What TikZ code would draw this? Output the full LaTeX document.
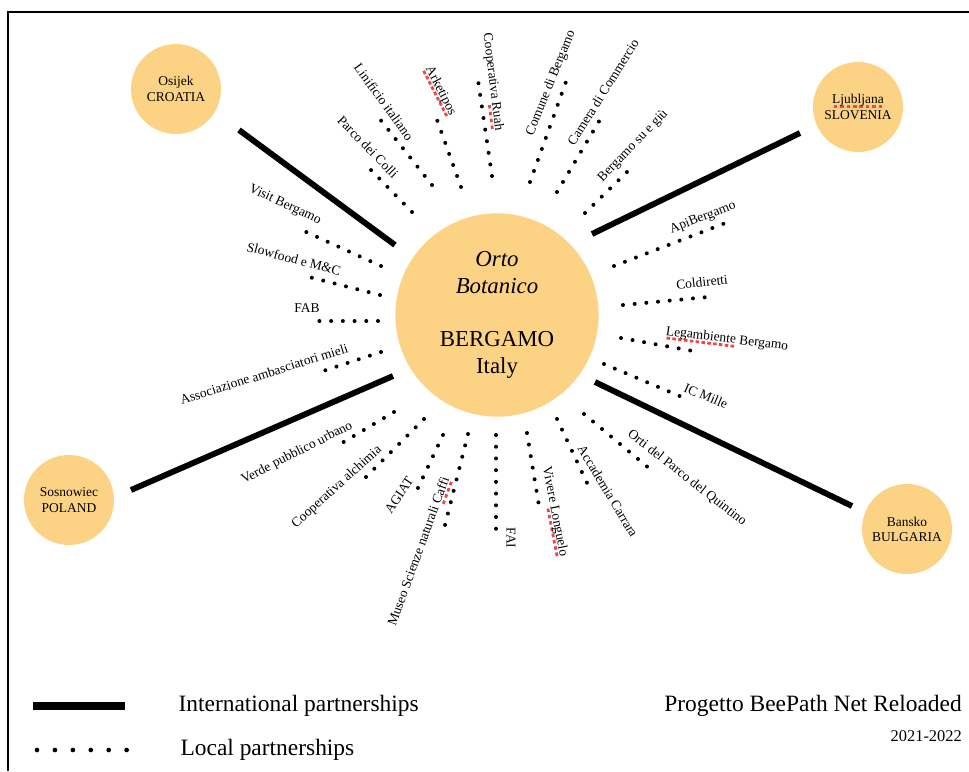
\documentclass[tikz,border=0pt]{standalone}
\usepackage{fontspec}
\setmainfont{Liberation Serif}
\usetikzlibrary{positioning}
\definecolor{orto}{RGB}{252,211,132}
\definecolor{spell}{RGB}{240,70,70}
\newcommand{\spellmark}[1]{\setbox0=\hbox{#1}\rlap{\raisebox{-3.6pt}{\color{spell}\hbox to \wd0{\xleaders\hbox to 5pt{\hss\vrule width 3pt height 2.4pt\hss}\hfill}}}#1}
\tikzset{
	city/.style={circle, fill=orto, minimum size=2.7cm, inner sep=0pt, align=center, font=\fontsize{11.5}{13}\selectfont},
	hub/.style={circle, fill=orto, minimum size=6.1cm, inner sep=0pt, align=center, font=\fontsize{19.5}{23}\selectfont},
	intl/.style={line width=5pt},
	local/.style={line width=3.4pt, line cap=round, dash pattern=on 0pt off 10pt},
	partner/.style={font=\fontsize{11.5}{13}\selectfont, inner sep=1pt},
	legend/.style={font=\fontsize{20}{22}\selectfont, inner sep=0pt}
}

\begin{document}
\begin{tikzpicture}[x=0.03cm,y=-0.03cm]
		\useasboundingbox (0,0) rectangle (969,771);
		\draw[line width=1.5pt] (8,771)--(8,12)--(969,12);
		% main node and partner cities
		\node[hub] (orto) at(497,315) {\textit{Orto}\\\textit{Botanico}\\[22pt]BERGAMO\\Italy};
		\node[city] (osijek) at(176,89) {Osijek\\CROATIA};
		\node[city] (ljubljana) at(858,107) {\spellmark{Ljubljana}\\SLOVENIA};
		\node[city] (sosnowiec) at(69,500) {Sosnowiec\\POLAND};
		\node[city] (bansko) at(907,529) {Bansko\\BULGARIA};
		% international lines
		\coordinate (hr0) at(395,245);
		\coordinate (hr1) at(239,130);
		\coordinate (si0) at(592,234);
		\coordinate (si1) at(800,133);
		\coordinate (pl0) at(393,376);
		\coordinate (pl1) at(131,490);
		\coordinate (bg0) at(595,382);
		\coordinate (bg1) at(852,506);
		\draw[intl] (hr0)--(hr1);
		\draw[intl] (si0)--(si1);
		\draw[intl] (pl0)--(pl1);
		\draw[intl] (bg0)--(bg1);
		% local lines
		\coordinate (colli0) at(412,212);
		\coordinate (colli1) at(369,168);
		\coordinate (lin0) at(432,185);
		\coordinate (lin1) at(379,118);
		\coordinate (ark0) at(461,187);
		\coordinate (ark1) at(436,117);
		\coordinate (ruah0) at(492,176);
		\coordinate (ruah1) at(478,80);
		\coordinate (com0) at(530,182);
		\coordinate (com1) at(567,79);
		\coordinate (cam0) at(557,192);
		\coordinate (cam1) at(601,118);
		\coordinate (giu0) at(585,213);
		\coordinate (giu1) at(628,171);
		\coordinate (visit0) at(381,266);
		\coordinate (visit1) at(304,231);
		\coordinate (slow0) at(380,295);
		\coordinate (slow1) at(309,277);
		\coordinate (fab0) at(378,321);
		\coordinate (fab1) at(317,321);
		\coordinate (amb0) at(381,352);
		\coordinate (amb1) at(323,371);
		\coordinate (api0) at(614,266);
		\coordinate (api1) at(728,222);
		\coordinate (cold0) at(623,305);
		\coordinate (cold1) at(708,297);
		\coordinate (leg0) at(621,338);
		\coordinate (leg1) at(693,351);
		\coordinate (ic0) at(604,364);
		\coordinate (ic1) at(682,397);
		\coordinate (verde0) at(394,412);
		\coordinate (verde1) at(342,443);
		\coordinate (alc0) at(424,419);
		\coordinate (alc1) at(364,479);
		\coordinate (agiat0) at(443,435);
		\coordinate (agiat1) at(417,490);
		\coordinate (museo0) at(468,434);
		\coordinate (museo1) at(444,529);
		\coordinate (fai0) at(496,435);
		\coordinate (fai1) at(496,532);
		\coordinate (viv0) at(527,433);
		\coordinate (viv1) at(539,506);
		\coordinate (acc0) at(557,419);
		\coordinate (acc1) at(588,485);
		\coordinate (orti0) at(584,414);
		\coordinate (orti1) at(650,469);
		\foreach \p in {colli,lin,ark,ruah,com,cam,giu,visit,slow,fab,amb,api,cold,leg,ic,verde,alc,agiat,museo,fai,viv,acc,orti}
			\draw[local] (\p0)--(\p1);
		% partner labels
		\node[partner, rotate=-46] (colli) at(368,147) {Parco dei Colli};
		\node[partner, rotate=-54] (lin) at(384,102) {Linificio italiano};
		\node[partner, rotate=-63] (ark) at(440,91) {\spellmark{Arketipos}};
		\node[partner, rotate=-83] (ruah) at(492,82) {Cooperativa \spellmark{Ruah}};
		\node[partner, rotate=68] (com) at(551,83) {Comune di Bergamo};
		\node[partner, rotate=58] (cam) at(603,92) {Camera di Commercio};
		\node[partner, rotate=46] (giu) at(633,146) {Bergamo su e giù};
		\node[partner, rotate=-25] (visit) at(285,205) {Visit Bergamo};
		\node[partner, rotate=-15] (slow) at(294,259) {Slowfood e M\&C};
		\node[partner] (fab) at(307,308) {FAB};
		\node[partner, rotate=17.5] (amb) at(264,374) {Associazione ambasciatori mieli};
		\node[partner, rotate=21] (api) at(703,218) {ApiBergamo};
		\node[partner, rotate=6] (cold) at(702,282) {Coldiretti};
		\node[partner, rotate=-7] (leg) at(727,340) {\spellmark{Legambiente} Bergamo};
		\node[partner, rotate=-23] (ic) at(706,396) {IC Mille};
		\node[partner, rotate=27] (verde) at(297,453) {Verde pubblico urbano};
		\node[partner, rotate=42] (alc) at(337,487) {Cooperativa alchimia};
		\node[partner, rotate=56] (agiat) at(399,495) {AGIAT};
		\node[partner, rotate=70] (museo) at(420,552) {Museo Scienze naturali \spellmark{Caffi}};
		\node[partner, rotate=-90] (fai) at(511,538) {FAI};
		\node[partner, rotate=-79] (viv) at(554,512) {Vivere \spellmark{Longuelo}};
		\node[partner, rotate=-59] (acc) at(608,491) {Accademia Carrara};
		\node[partner, rotate=-38] (orti) at(687,478) {Orti del Parco del Quintino};
		% legend
		\coordinate (lgA0) at(33,706);
		\coordinate (lgA1) at(125,706);
		\coordinate (lgB0) at(37,750);
		\coordinate (lgB1) at(127,750);
		\draw[intl, line width=6pt] (lgA0)--(lgA1);
		\draw[local, line width=4pt, dash pattern=on 0pt off 15.3pt] (lgB0)--(lgB1);
		\node[legend, anchor=west, right=1.6cm of lgA1] (intlabel) {International partnerships};
		\node[legend, anchor=west, right=1.6cm of lgB1] (loclabel) {Local partnerships};
		\node[legend, anchor=east] (project) at(962,706) {Progetto BeePath Net Reloaded};
		\node[legend, anchor=east, font=\fontsize{14}{16}\selectfont] (years) at(962,736) {2021-2022};
	\end{tikzpicture}
\end{document}
